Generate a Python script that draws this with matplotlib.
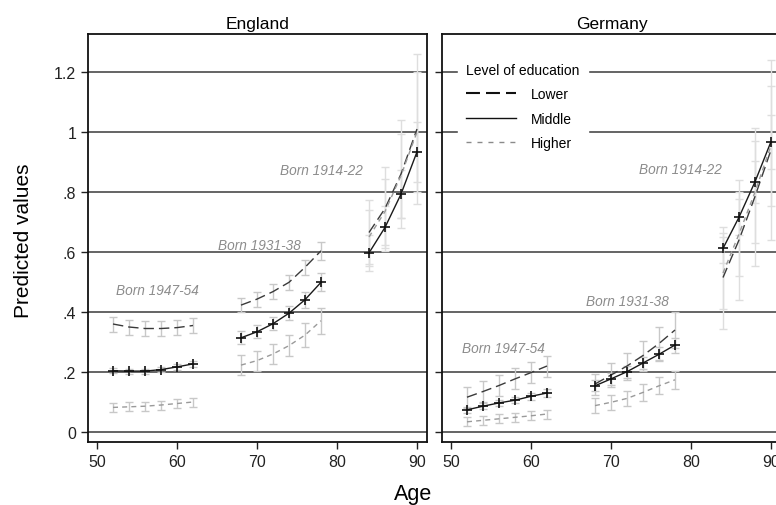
import matplotlib
matplotlib.use("Agg")
import matplotlib.pyplot as plt
from matplotlib.lines import Line2D
import numpy as np

plt.rcParams['font.family'] = ['Liberation Sans', 'DejaVu Sans']

# ages per cohort block (1947-54, 1931-38, 1914-22)
ages = [52, 54, 56, 58, 60, 62, 68, 70, 72, 74, 76, 78, 84, 86, 88, 90]
cohort_sizes = [6, 6, 4]
cohort_labels = ["Born 1947-54", "Born 1931-38", "Born 1914-22"]

countries = ["England", "Germany"]
levels = ["Lower", "Middle", "Higher"]

eng_lower = [0.36, 0.35, 0.345, 0.345, 0.348, 0.355,
             0.423, 0.443, 0.468, 0.499, 0.549, 0.604,
             0.665, 0.745, 0.86, 1.01]
eng_lower_err = [0.025, 0.025, 0.025, 0.025, 0.025, 0.025,
                 0.024, 0.025, 0.025, 0.026, 0.026, 0.03,
                 0.11, 0.14, 0.18, 0.25]
eng_middle = [0.204, 0.203, 0.203, 0.208, 0.217, 0.227,
              0.314, 0.334, 0.361, 0.396, 0.441, 0.499,
              0.597, 0.682, 0.793, 0.934]
eng_middle_err = [0.008, 0.008, 0.008, 0.009, 0.01, 0.011,
                  0.022, 0.022, 0.022, 0.024, 0.026, 0.03,
                  0.06, 0.07, 0.08, 0.1]
eng_higher = [0.082, 0.084, 0.086, 0.09, 0.095, 0.1,
              0.223, 0.238, 0.26, 0.288, 0.323, 0.371,
              0.65, 0.735, 0.855, 1.0]
eng_higher_err = [0.015, 0.015, 0.015, 0.015, 0.015, 0.015,
                  0.033, 0.033, 0.034, 0.036, 0.04, 0.044,
                  0.09, 0.11, 0.14, 0.2]

ger_lower = [0.116, 0.135, 0.155, 0.177, 0.198, 0.22,
             0.16, 0.19, 0.22, 0.255, 0.295, 0.34,
             0.515, 0.64, 0.785, 0.94]
ger_lower_err = [0.035, 0.035, 0.035, 0.035, 0.035, 0.035,
                 0.035, 0.04, 0.045, 0.05, 0.055, 0.06,
                 0.17, 0.2, 0.23, 0.3]
ger_middle = [0.074, 0.086, 0.097, 0.106, 0.119, 0.13,
              0.154, 0.177, 0.201, 0.23, 0.259, 0.29,
              0.612, 0.716, 0.834, 0.968]
ger_middle_err = [0.01, 0.01, 0.01, 0.01, 0.011, 0.012,
                  0.018, 0.019, 0.02, 0.021, 0.023, 0.025,
                  0.05, 0.06, 0.07, 0.09]
ger_higher = [0.034, 0.039, 0.044, 0.049, 0.054, 0.06,
              0.088, 0.099, 0.112, 0.132, 0.154, 0.174,
              0.53, 0.66, 0.8, 0.955]
ger_higher_err = [0.015, 0.015, 0.015, 0.015, 0.015, 0.015,
                  0.024, 0.025, 0.026, 0.027, 0.028, 0.03,
                  0.12, 0.14, 0.17, 0.2]

# label anchor points (age, value) per country
eng_label_pos = [(57.5, 0.473), (70.25, 0.623), (78.0, 0.873)]
ger_label_pos = [(56.5, 0.28), (72.0, 0.437), (78.65, 0.877)]

yticks = [0, 0.2, 0.4, 0.6, 0.8, 1.0, 1.2]
ytick_labels = ["0", ".2", ".4", ".6", ".8", "1", "1.2"]
xticks = [50, 60, 70, 80, 90]

data = {
    "England": ([eng_lower, eng_middle, eng_higher],
                [eng_lower_err, eng_middle_err, eng_higher_err], eng_label_pos),
    "Germany": ([ger_lower, ger_middle, ger_higher],
                [ger_lower_err, ger_middle_err, ger_higher_err], ger_label_pos),
}

styles = {
    "Lower": dict(color="#3a3a3a", ls=(0, (7.5, 3.6)), lw=1.0, marker=None),
    "Middle": dict(color="#1a1a1a", ls="-", lw=1.0, marker="+"),
    "Higher": dict(color="#9a9a9a", ls=(0, (3.6, 3)), lw=1.0, marker=None),
}
# the oldest cohort's bars look paler in the original
err_colors = ["#c8c8c8", "#c8c8c8", "#dedede"]

W, H = 776, 506
fig = plt.figure(figsize=(W / 100, H / 100), dpi=100)

panel_left = [88, 442]
axes = []
for i, country in enumerate(countries):
    ax = fig.add_axes([panel_left[i] / W, 1 - 443 / H, 339 / W, 408 / H])
    axes.append(ax)
    ax.set_xlim(48.875, 91.25)
    ax.set_ylim(-0.0333, 1.3267)
    for y in yticks:
        ax.axhline(y, color="#4a4a4a", lw=1.2, zorder=1)
    ax.set_yticks(yticks)
    ax.set_xticks(xticks)
    ax.tick_params(direction="out", length=5, width=1, labelsize=11.5, colors="#222222")
    if i == 0:
        ax.set_yticklabels(ytick_labels)
    else:
        ax.set_yticklabels([])
    for sp in ax.spines.values():
        sp.set_color("#111111")
        sp.set_linewidth(1.3)
    ax.set_title(country, fontsize=12.5, pad=4)

    series, errs, label_pos = data[country]
    start = 0
    for k, n in enumerate(cohort_sizes):
        sl = slice(start, start + n)
        x = np.array(ages[sl])
        for lev, vals, err in zip(levels, series, errs):
            ax.errorbar(x, np.array(vals[sl]), yerr=np.array(err[sl]), fmt="none",
                        ecolor=err_colors[k], elinewidth=1, capsize=2.6, capthick=1, zorder=2)
        for lev, vals in zip(levels, series):
            st = styles[lev]
            ax.plot(x, np.array(vals[sl]), color=st["color"], ls=st["ls"], lw=st["lw"],
                    marker=st["marker"], ms=7.5, mew=1.2, mec="#111111", zorder=3)
        start += n

    for lab, (lx, ly) in zip(cohort_labels, label_pos):
        ax.text(lx, ly, lab, ha="center", va="center", style="italic",
                fontsize=9.8, color="#8c8c8c", zorder=4)

handles = [Line2D([], [], color="#111111", ls=(0, (6.7, 2.9)), lw=1.5),
           Line2D([], [], color="#111111", ls="-", lw=1.0),
           Line2D([], [], color="#8a8a8a", ls=(0, (3.6, 4.3)), lw=1.0)]
leg = axes[1].legend(handles, levels, title="Level of education", loc="upper left",
                     bbox_to_anchor=(0.026, 0.967), frameon=True, framealpha=1,
                     edgecolor="white", facecolor="white", fontsize=10, title_fontsize=10,
                     handlelength=3.6, handletextpad=1.1, labelspacing=0.75,
                     alignment="left", borderpad=0.6, fancybox=False)
leg.set_zorder(5)

fig.text(24 / W, 1 - 241 / H, "Predicted values", rotation=90, ha="center", va="center",
         fontsize=15)
fig.text(413 / W, 1 - 495 / H, "Age", ha="center", va="center", fontsize=15.5)

fig.savefig("out.png", dpi=100, facecolor="white")
